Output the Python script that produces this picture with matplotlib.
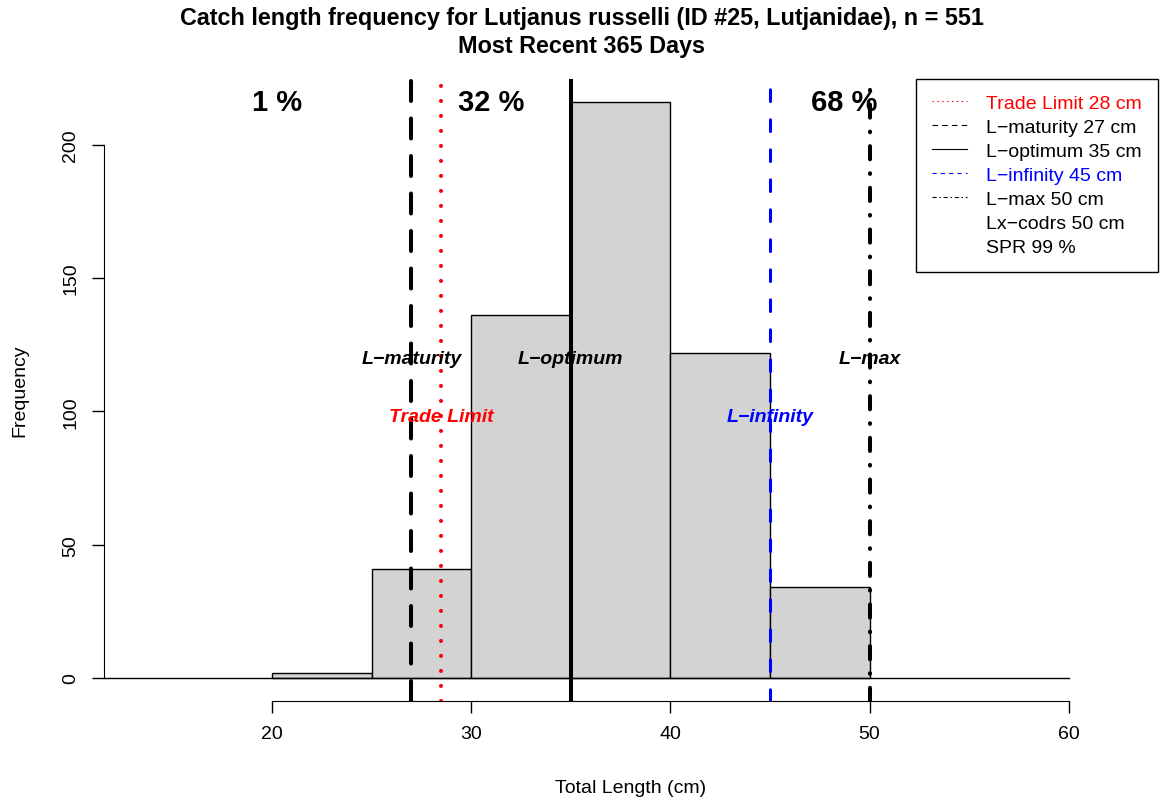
import matplotlib
matplotlib.use('Agg')
import matplotlib.pyplot as plt
from matplotlib.lines import Line2D

plt.rcParams['font.family'] = ['Liberation Sans', 'DejaVu Sans']
plt.rcParams['lines.scale_dashes'] = False

# catch length histogram (5 cm bins)
bin_edges = [20, 25, 30, 35, 40, 45, 50]
counts = [2, 41, 136, 216, 122, 34]

# reference lengths (cm)
ref_names = ['Trade Limit', 'L\u2212maturity', 'L\u2212optimum', 'L\u2212infinity', 'L\u2212max']
ref_values = [28.5, 27, 35, 45, 50]
ref_colors = ['red', 'black', 'black', 'blue', 'black']
ref_label_y = [98, 120, 120, 98, 120]
lx_codrs = 50
spr = 99

# share of catch below maturity / between maturity and optimum / above optimum
pct_labels = ['1 %', '32 %', '68 %']
x_range = [13.5, 62.5]

W, H = 1163, 803
fig = plt.figure(figsize=(W / 100, H / 100), dpi=100)
# plot region in pixels: left 103.5, right 1157.5, top 80, bottom 702
ax = fig.add_axes([103.5 / W, 1 - 702 / H, (1157.5 - 103.5) / W, (702 - 80) / H])

pad_x = 0.04 * (x_range[1] - x_range[0])
ax.set_xlim(x_range[0] - pad_x, x_range[1] + pad_x)
ymax = max(counts)
ax.set_ylim(-0.04 * ymax, ymax * 1.04)

ax.hist(bin_edges[:-1], bins=bin_edges, weights=counts, color='lightgray',
        edgecolor='black', linewidth=1.0, zorder=2)
ax.plot([ax.get_xlim()[0], 60], [0, 0], color='black', lw=1.0, zorder=3)

line_styles = {
    'Trade Limit': dict(lw=2.9, ls=(0, (0.1, 10.7)), dash_capstyle='round'),
    'L\u2212maturity': dict(lw=2.9, ls=(0, (14.4, 12.6)), dash_capstyle='round'),
    'L\u2212optimum': dict(lw=2.9, ls='-'),
    'L\u2212infinity': dict(lw=2.2, ls=(0, (8.4, 13.2)), dash_capstyle='round'),
    'L\u2212max': dict(lw=2.9, ls=(0, (9.5, 10.0, 0.5, 10.0)), dash_capstyle='round'),
}
for name, val, col, ly in zip(ref_names, ref_values, ref_colors, ref_label_y):
    ax.axvline(val, color=col, zorder=4, **line_styles[name])
    ax.text(val, ly, name, color=col, fontsize=14, fontweight='bold',
            fontstyle='italic', ha='center', va='center', zorder=5)

# percentage labels between the reference breaks
pct_x = [(x_range[0] + ref_values[1]) / 2,
         (ref_values[1] + ref_values[2]) / 2,
         (ref_values[2] + x_range[1]) / 2]
for px, lab in zip(pct_x, pct_labels):
    ax.text(px, ymax, lab, fontsize=21, fontweight='bold', ha='center',
            va='center', zorder=5)

# R-style axes
for s in ['top', 'right']:
    ax.spines[s].set_visible(False)
ax.spines['left'].set_bounds(0, 200)
ax.spines['bottom'].set_bounds(20, 60)
ax.set_xticks([20, 30, 40, 50, 60])
ax.set_yticks([0, 50, 100, 150, 200])
ax.tick_params(direction='out', length=8.6, width=1.0, labelsize=14, pad=9)
plt.setp(ax.get_yticklabels(), rotation=90, va='center')
ax.set_xlabel('Total Length (cm)', fontsize=14, labelpad=26)
ax.set_ylabel('Frequency', fontsize=14, labelpad=24)

fig.text(0.5, 1 - 18 / H, 'Catch length frequency for Lutjanus russelli (ID #25, Lutjanidae), n = %d' % sum(counts),
         ha='center', va='center', fontsize=16.8, fontweight='bold')
fig.text(0.5, 1 - 46 / H, 'Most Recent 365 Days', ha='center', va='center',
         fontsize=16.8, fontweight='bold')

# legend
leg_styles = [(0, (1, 2.5)), (0, (4, 3)), '-', (0, (3, 3)), (0, (3, 2, 1, 2))]
handles = [Line2D([], [], color=c, lw=0.8, ls=s) for c, s in zip(ref_colors, leg_styles)]
handles += [Line2D([], [], ls='none'), Line2D([], [], ls='none')]
labels = ['%s %.0f cm' % (n, v) for n, v in zip(ref_names, ref_values)]
labels += ['Lx\u2212codrs %d cm' % lx_codrs, 'SPR %d %%' % spr]
leg = ax.legend(handles, labels, loc='upper right', borderaxespad=0, fontsize=14,
                frameon=True, fancybox=False, edgecolor='black', framealpha=1,
                handlelength=1.8, handletextpad=1.0, labelspacing=0.33,
                borderpad=0.8, labelcolor=['red', 'black', 'black', 'blue', 'black', 'black', 'black'])
leg.get_frame().set_linewidth(1.0)
leg.set_zorder(6)

fig.savefig('out.png', dpi=100)
